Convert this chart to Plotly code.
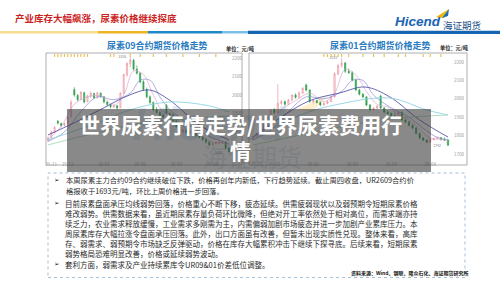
import plotly.graph_objects as go

W, H = 500, 281
def px(x): return x / W
def py(y): return 1 - y / H

FONT = "Noto Sans CJK SC"

# ---------------- data: UR09 contract (left) ----------------
left_open  = [1752,1770,1798,1858,1846,1836,1846,1882,2030,1998,1976,2012,1965,1994,2008,1986,2010,1990,1962,1948,1936,1942,1932,2010,2108,2168,2188,2140,2118,2072,2030,1990,1960,1920,1905,1890,1945,1900,1895,1860,1830,1800,1810,1798,1795,1790,1780,1773,1760,1745,1730,1738,1742,1745,1746,1713]
left_high  = [1775,1808,1832,1865,1850,1852,1888,1975,2042,2005,2022,2018,2002,2020,2012,2018,2015,1995,1970,1952,1948,1945,2015,2115,2178,2205,2195,2160,2125,2080,2040,1998,1965,1935,1912,1898,1952,1910,1900,1866,1838,1818,1815,1806,1800,1795,1785,1778,1765,1750,1745,1748,1752,1755,1750,1718]
left_low   = [1745,1765,1792,1840,1825,1830,1842,1878,1990,1965,1970,1955,1960,1985,1978,1980,1985,1955,1940,1928,1930,1922,1928,2005,2100,2150,2130,2110,2062,2022,1982,1952,1912,1898,1882,1872,1895,1885,1852,1822,1792,1795,1790,1788,1782,1772,1765,1752,1738,1722,1726,1732,1736,1738,1705,1688]
left_close = [1768,1800,1825,1848,1835,1845,1880,1960,2000,1975,2015,1962,1995,2010,1985,2012,1990,1962,1948,1936,1942,1930,2010,2110,2170,2190,2140,2118,2070,2030,1990,1960,1920,1905,1890,1880,1900,1895,1860,1830,1800,1810,1798,1795,1790,1780,1773,1760,1745,1730,1738,1742,1745,1746,1713,1693]

# moving averages (index, price)
left_ma5_idx  = [0,4,8,12,16,20,23,26,29,32,35,38,41,44,47,50,53,55]
left_ma5_val  = [1760,1830,1950,1990,1995,1945,2000,2130,2110,2000,1910,1895,1830,1800,1775,1745,1740,1725]
left_ma10_idx = [0,5,10,15,20,25,28,31,34,37,40,44,48,52,55]
left_ma10_val = [1750,1800,1910,1990,1975,2010,2080,2080,1990,1920,1880,1825,1785,1755,1735]
left_ma20_idx = [0,8,15.7,24.8,30.8,36.9,46,55]
left_ma20_val = [1784,1850,1919,2000,2027,1973,1838,1757]
left_ma40_idx = [0,15.7,24.8,36.9,49,55]
left_ma40_val = [1757,1854,1919,1962,1941,1908]
left_ma60_idx = [0,15.7,30.8,46,55]
left_ma60_val = [1730,1800,1854,1876,1887]

# ---------------- data: UR01 contract (right) ----------------
right_open  = [1780,1792,1810,1830,1858,1898,1940,1925,1975,1985,1970,1993,2020,2008,2032,2075,2048,1985,1990,1980,1966,1975,1985,2010,2135,2180,2195,2150,2142,2102,2048,2025,2010,1966,1940,1950,2015,1950,1928,1920,1908,1901,1925,1885,1874,1856,1841,1812,1787,1775,1765,1778,1785,1788,1780,1776]
right_high  = [1798,1815,1835,1862,1905,1945,1950,2080,1995,1990,2000,2025,2030,2040,2062,2082,2052,2000,1995,1985,1982,1990,2015,2145,2190,2222,2200,2165,2150,2110,2055,2032,2015,1972,1955,1965,2022,1955,1935,1925,1925,1930,1935,1890,1880,1862,1845,1818,1792,1780,1782,1790,1795,1792,1790,1780]
right_low   = [1775,1788,1805,1825,1852,1890,1915,1920,1965,1962,1965,1988,2000,2002,2025,2040,1978,1975,1975,1960,1962,1970,1980,2005,2128,2170,2140,2135,2095,2042,2018,2002,1960,1932,1935,1945,1945,1922,1915,1900,1895,1898,1880,1868,1850,1835,1805,1780,1770,1758,1760,1772,1780,1772,1770,1742]
right_close = [1792,1810,1830,1858,1898,1938,1925,1975,1985,1970,1993,2020,2008,2032,2058,2048,1985,1990,1980,1966,1975,1985,2010,2135,2180,2195,2150,2142,2102,2048,2025,2010,1966,1940,1950,1960,1950,1928,1920,1908,1901,1925,1885,1874,1856,1841,1812,1787,1775,1765,1778,1785,1788,1780,1776,1749]

right_ma5_idx  = [0,4,8,12,16,20,23,26,29,32,35,38,41,44,47,50,53,55]
right_ma5_val  = [1785,1840,1940,1990,2030,1985,2030,2160,2130,2040,1970,1955,1915,1885,1835,1785,1780,1770]
right_ma10_idx = [0,5,10,15,20,25,28,31,34,37,40,44,48,52,55]
right_ma10_val = [1775,1830,1930,2010,2000,2040,2100,2100,2020,1975,1940,1900,1840,1790,1778]
right_ma20_idx = [0,15.2,24.5,31.6,38.6,47,55]
right_ma20_val = [1792,1983,2032,2064,2010,1885,1792]
right_ma40_idx = [0,13.3,24.5,38.6,49,55]
right_ma40_val = [1776,1912,1972,2004,1939,1912]
right_ma60_idx = [0,13.3,27.4,41.5,55]
right_ma60_val = [1749,1803,1858,1896,1912]

y_ticks = [2200, 2100, 2000, 1900, 1800, 1700]
x_tick_idx = [1, 6, 17, 28, 39, 50]
x_tick_text = ["25-11", "25-12", "26-01", "26-02", "26-03", "26-04"]
left_events = [2,3,4,5,6,7,8,9,10,11,12,19,20,25,28,32,36,41,46,51]
right_events = [20,21,22,23,24,25,27,31,34,37,41,43,48,50,53]

left_yrange = [1648.7, 2221.6]
right_yrange = [1667.4, 2243.5]

MA_STYLES = [("#dba6cf", 0.7), ("#8c8cd0", 0.7), ("#5656aa", 0.9), ("#8fd2e2", 0.9), ("#a9d9b9", 0.9)]

fig = go.Figure()

def add_chart(o, h, l, c, mas, events, yr, xa, ya):
    idx = list(range(len(c)))
    fig.add_trace(go.Candlestick(
        x=idx, open=o, high=h, low=l, close=c, xaxis=xa, yaxis=ya,
        increasing=dict(line=dict(color="#e88a9a", width=0.6), fillcolor="#fde8ec"),
        decreasing=dict(line=dict(color="#2a9a48", width=0.6), fillcolor="#39ad58"),
        whiskerwidth=0, showlegend=False, hoverinfo="skip"))
    for (mi, mv), (col, wd) in zip(mas, MA_STYLES):
        fig.add_trace(go.Scatter(x=mi, y=mv, mode="lines", xaxis=xa, yaxis=ya,
                                 line=dict(color=col, width=wd, shape="spline", smoothing=1.0),
                                 showlegend=False, hoverinfo="skip"))
    ev_y = [yr[1] - (yr[1] - yr[0]) * 0.012] * len(events)
    fig.add_trace(go.Scatter(x=events, y=ev_y, mode="markers", xaxis=xa, yaxis=ya,
                             marker=dict(symbol="line-ns", size=2.5, line=dict(color="#e8c35a", width=1.2)),
                             showlegend=False, hoverinfo="skip"))
    hi = max(h); hi_i = h.index(hi)
    lo = min(l); lo_i = l.index(lo)
    fig.add_trace(go.Scatter(x=[hi_i - 1.2, lo_i - 2.0], y=[hi, lo], mode="text",
                             text=[str(hi), str(lo)], textfont=dict(size=3.5, color="#888"),
                             textposition=["middle left", "middle left"],
                             xaxis=xa, yaxis=ya, showlegend=False, hoverinfo="skip"))

add_chart(left_open, left_high, left_low, left_close,
          [(left_ma5_idx, left_ma5_val), (left_ma10_idx, left_ma10_val), (left_ma20_idx, left_ma20_val),
           (left_ma40_idx, left_ma40_val), (left_ma60_idx, left_ma60_val)],
          left_events, left_yrange, "x", "y")
add_chart(right_open, right_high, right_low, right_close,
          [(right_ma5_idx, right_ma5_val), (right_ma10_idx, right_ma10_val), (right_ma20_idx, right_ma20_val),
           (right_ma40_idx, right_ma40_val), (right_ma60_idx, right_ma60_val)],
          right_events, right_yrange, "x2", "y2")

# watermark on a full-page pixel axis (under the overlay)
fig.add_trace(go.Scatter(x=[209, 252], y=[128, 161], mode="text", text=["<b><i>Hicend</i></b>", "海证期货"],
                         textfont=dict(size=[46, 25], color=["rgba(110,160,210,0.22)", "rgba(110,150,190,0.22)"],
                                       family=["Liberation Sans", FONT]),
                         xaxis="x3", yaxis="y3", showlegend=False, hoverinfo="skip"))

tickfont = dict(size=4.5, color="#9a9a9a")
common_x = dict(showgrid=False, zeroline=False, showline=False, ticks="", tickvals=x_tick_idx,
                ticktext=x_tick_text, tickfont=tickfont, rangeslider=dict(visible=False), fixedrange=True)
common_y = dict(showgrid=False, zeroline=False, showline=False, ticks="", tickvals=y_ticks,
                tickfont=tickfont, side="right", fixedrange=True)

shapes = []
# header bar
for x0, x1, col, y0, y1 in [(0, 98, "#f6dc8e", 31, 33.5), (98, 148, "#eeb422", 31, 33.5),
                            (148, 222, "#1f88c8", 31, 33.5), (222, 248, "#7cc0e8", 31, 33.5),
                            (248, 500, "#1565b0", 30.8, 34)]:
    shapes.append(dict(type="rect", xref="paper", yref="paper", x0=px(x0), x1=px(x1), y0=py(y1), y1=py(y0),
                       fillcolor=col, line=dict(width=0), layer="below"))
# logo swoosh
shapes.append(dict(type="path", xref="paper", yref="paper",
                   path=f"M {px(436)},{py(17)} L {px(449)},{py(9)} L {px(444)},{py(18)} Z",
                   fillcolor="#f2b705", line=dict(width=0), layer="above"))
shapes.append(dict(type="path", xref="paper", yref="paper",
                   path=f"M {px(442)},{py(18)} L {px(449)},{py(9)} L {px(448)},{py(16)} Z",
                   fillcolor="#1c6fbf", line=dict(width=0), layer="above"))
# watermark swoosh
shapes.append(dict(type="path", xref="paper", yref="paper",
                   path=f"M {px(296)},{py(110)} L {px(328)},{py(95)} L {px(312)},{py(112)} Z",
                   fillcolor="rgba(248,210,110,0.35)", line=dict(width=0), layer="below"))
# chart frames
for x0, x1 in [(46, 242), (249, 467)]:
    shapes.append(dict(type="rect", xref="paper", yref="paper", x0=px(x0), x1=px(x1), y0=py(165), y1=py(53),
                       line=dict(color="#9a9a9a", width=0.8), fillcolor="rgba(0,0,0,0)", layer="below"))
# text box
shapes.append(dict(type="rect", xref="paper", yref="paper", x0=px(48), x1=px(465), y0=py(277.5), y1=py(173),
                   line=dict(color="#8fb0cc", width=0.8, dash="dot"), fillcolor="rgba(0,0,0,0)", layer="below"))
# dark overlay band
shapes.append(dict(type="rect", xref="paper", yref="paper", x0=px(67), x1=px(431), y0=py(172), y1=py(109),
                   fillcolor="rgba(58,58,58,0.6)", line=dict(width=0), layer="above"))

ann = []
def text(x, y, s, size, color="#222", xanchor="left", bold=False, family=FONT):
    ann.append(dict(x=px(x), y=py(y), xref="paper", yref="paper", text=(f"<b>{s}</b>" if bold else s),
                    showarrow=False, xanchor=xanchor, yanchor="middle",
                    font=dict(size=size, color=color, family=family), borderpad=0))

text(14, 18, "产业库存大幅飙涨，尿素价格继续探底", 9.5, "#cc1f1f", bold=True)
text(394, 22, "<i>Hicend</i>", 13.5, "#1a64b4", bold=True, family="Liberation Sans")
text(442, 24.5, "海证期货", 9.5, "#1a4f8a")
text(157, 45, "尿素09合约期货价格走势", 9, "#2a7bbf", xanchor="center", bold=True)
text(380, 45, "尿素01合约期货价格走势", 9, "#2a7bbf", xanchor="center", bold=True)
text(225, 49, "单位：元/吨", 5.2, "#222", bold=True)
text(439, 48, "单位：元/吨", 5.2, "#222", bold=True)

body = [
    (65, 180, 7.3, "本周尿素主力合约09合约继续破位下跌，价格再创年内新低，下行趋势延续。截止周四收盘，UR2609合约价"),
    (65, 190.5, 7.3, "格报收于1693元/吨，环比上周价格进一步回落。"),
    (64, 203, 7.5, "目前尿素盘面承压均线弱势回落，价格重心不断下移，疲态延续。供需疲弱现状以及弱预期令短期尿素价格"),
    (64, 213, 7.5, "难改弱势。供需数据来看，虽近期尿素存量负荷环比微降，但绝对开工率依然处于相对高位，而需求端亦持"),
    (64, 223, 7.5, "续乏力，农业需求释放缓慢，工业需求多刚需为主，内需偏弱加剧市场疲态并进一步加剧产业累库压力。本"),
    (64, 233, 7.5, "周尿素库存大幅拉涨令盘面承压回落。此外，出口方面虽有改善，但暂未出现实质性兑现。整体来看，高库"),
    (64, 243, 7.5, "存、弱需求、弱预期令市场缺乏反弹驱动，价格在库存大幅累积冲击下继续下探寻底。后续来看，短期尿素"),
    (64, 253, 7.5, "弱势格局恐难明显改善，价格或延续弱势波动。"),
    (64, 264, 7.5, "套利方面，弱需求及产业持续累库令UR09&01价差低位调整。"),
]
for x, y, sz, s in body:
    text(x, y, s, sz, "#2a2a2a")
for y in [180, 203, 264]:
    text(53, y, "➢", 6.5, "#222", family="DejaVu Sans")
text(350, 272.5, "资料来源：Wind、钢联、隆众石化、海证期货研究所", 5, "#111", bold=True)

# overlay title
text(240, 124.5, "世界尿素行情走势/世界尿素费用行", 21, "#ffffff", xanchor="center", bold=True)
text(240, 150, "情", 21, "#ffffff", xanchor="center", bold=True)

fig.update_layout(
    width=W, height=H, margin=dict(l=0, r=0, t=0, b=0),
    paper_bgcolor="white", plot_bgcolor="rgba(0,0,0,0)",
    font=dict(family=FONT), showlegend=False, boxgap=0.5,
    xaxis=dict(domain=[px(47), px(231)], range=[-0.304, 55.61], anchor="y", **common_x),
    yaxis=dict(domain=[py(160), py(54)], range=left_yrange, anchor="x", **common_y),
    xaxis2=dict(domain=[px(250), px(453)], range=[-0.846, 56.41], anchor="y2", **common_x),
    yaxis2=dict(domain=[py(160), py(54)], range=right_yrange, anchor="x2", **common_y),
    xaxis3=dict(domain=[0, 1], range=[0, W], visible=False, anchor="y3", fixedrange=True),
    yaxis3=dict(domain=[0, 1], range=[H, 0], visible=False, anchor="x3", fixedrange=True),
    shapes=shapes, annotations=ann,
)

fig.write_html("out.html")
